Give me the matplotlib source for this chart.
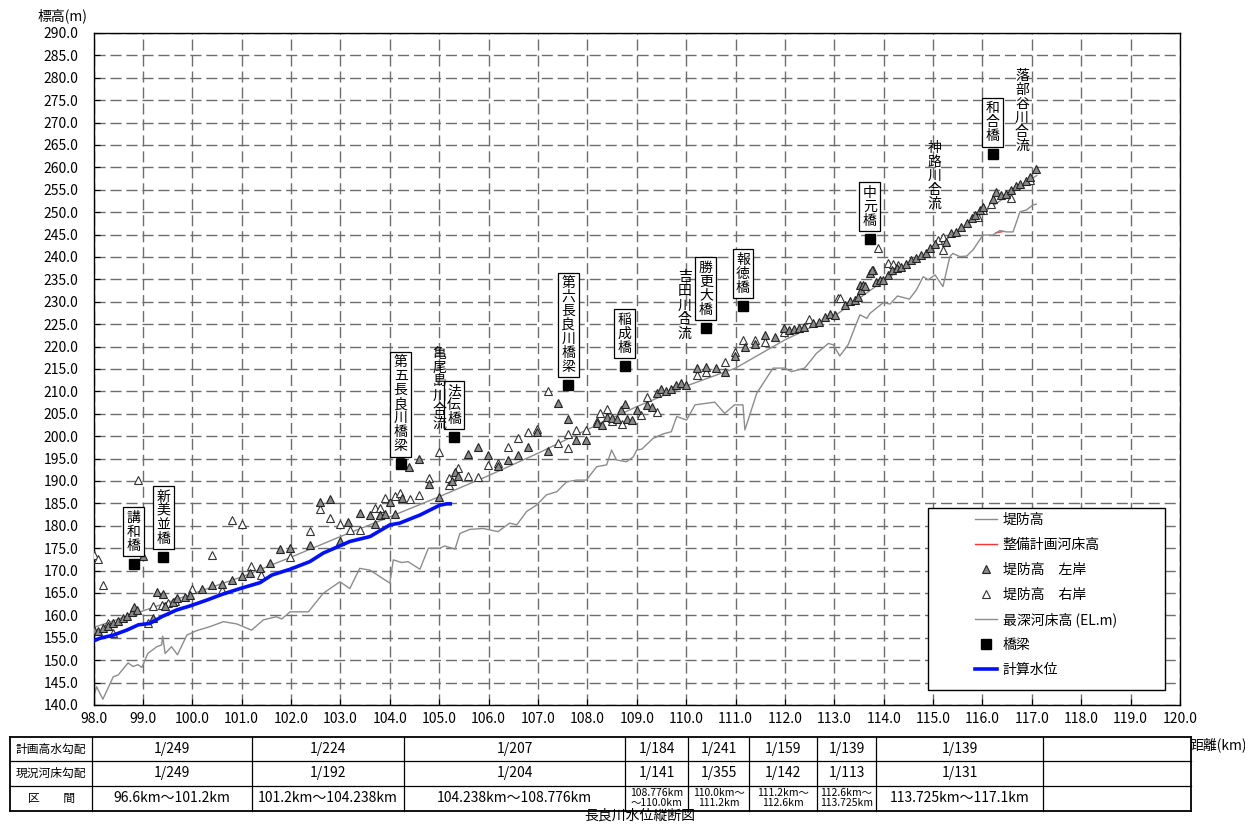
import numpy as np
import matplotlib
matplotlib.use("Agg")
import matplotlib.pyplot as plt
from matplotlib.patches import Rectangle
from matplotlib.lines import Line2D
from matplotlib.ticker import FormatStrFormatter

plt.rcParams['font.family'] = ['Noto Sans CJK JP', 'DejaVu Sans']

# 堤防高 (design levee line)
levee_km = [98.0, 99.0, 100.0, 101.0, 102.0, 103.0, 104.0, 105.0, 106.0, 107.0,
            108.0, 109.0, 110.0, 111.0, 112.0, 113.0, 114.0, 115.0, 116.0, 117.1]
levee_el = [157.3, 161.0, 164.8, 168.6, 173.0, 177.6, 182.0, 186.5, 191.2, 196.2,
            201.5, 206.6, 211.2, 215.2, 221.5, 226.8, 234.7, 241.8, 249.8, 258.2]

# 整備計画河床高 (only a short piece visible)
plan_bed_km = [116.27, 116.42]
plan_bed_el = [245.4, 245.7]

# 最深河床高
bed_km = [98.0, 98.06, 98.19, 98.4, 98.5, 98.7, 98.8, 98.9, 98.98, 99.1, 99.28, 99.38, 99.4,
          99.45, 99.58, 99.7, 99.89, 100.09, 100.36, 100.63, 100.9, 101.2, 101.44, 101.7,
          101.81, 101.98, 102.35, 102.65, 102.79, 102.99, 103.19, 103.39, 103.6, 104.0,
          104.07, 104.24, 104.37, 104.61, 104.78, 105.01, 105.11, 105.32, 105.42, 105.62,
          105.89, 106.19, 106.43, 106.57, 106.77, 106.97, 107.17, 107.38, 107.58, 107.78,
          107.98, 108.19, 108.39, 108.49, 108.59, 108.79, 108.93, 109.0, 109.1, 109.33,
          109.53, 109.7, 109.81, 110.01, 110.18, 110.58, 110.78, 110.98, 111.15, 111.19,
          111.43, 111.76, 112.0, 112.13, 112.4, 112.64, 112.88, 112.98, 113.11, 113.28,
          113.42, 113.52, 113.66, 113.72, 113.99, 114.13, 114.28, 114.52, 114.66, 114.8,
          114.9, 115.04, 115.2, 115.34, 115.4, 115.54, 115.68, 115.81, 116.01, 116.21,
          116.35, 116.49, 116.62, 116.76, 116.89, 117.02, 117.09]
bed_el = [141.5, 144.1, 141.3, 146.3, 146.7, 149.4, 148.6, 149.0, 148.4, 151.5, 153.0, 153.4, 155.4,
          151.5, 153.0, 151.2, 155.6, 156.6, 157.5, 158.6, 158.1, 156.7, 159.0, 159.7,
          159.2, 160.8, 160.8, 164.9, 166.0, 167.5, 166.0, 170.5, 170.1, 167.2,
          172.4, 171.8, 172.0, 170.3, 175.0, 175.0, 175.5, 174.8, 178.3, 179.2,
          179.4, 178.7, 180.6, 180.2, 183.2, 184.6, 186.9, 187.6, 189.8, 190.2,
          190.2, 193.2, 193.6, 196.9, 194.7, 194.3, 195.4, 196.9, 197.1, 199.5,
          200.5, 201.0, 204.4, 203.6, 207.0, 207.6, 205.1, 207.0, 207.0, 201.4,
          209.6, 215.2, 215.2, 214.4, 215.2, 218.5, 220.7, 220.4, 217.9, 220.4,
          224.4, 227.1, 226.3, 227.4, 229.8, 229.5, 231.3, 230.6, 232.6, 235.6,
          234.9, 236.0, 233.4, 240.1, 240.8, 240.1, 240.2, 241.6, 244.9, 244.9,
          245.9, 245.6, 245.6, 250.1, 250.5, 251.6, 251.8]

# 計算水位
wl_km = [98.0, 98.13, 98.4, 98.67, 98.91, 99.14, 99.38, 99.68, 99.95, 100.29, 100.63, 100.97,
         101.37, 101.61, 101.98, 102.38, 102.65, 102.96, 103.19, 103.6, 104.0, 104.2, 104.61,
         104.81, 105.01, 105.15, 105.26]
wl_el = [154.3, 154.9, 155.6, 156.7, 157.9, 158.2, 159.7, 161.2, 162.1, 163.4, 164.8, 166.0,
         167.3, 169.0, 170.3, 172.0, 173.9, 175.4, 176.5, 177.6, 180.2, 180.6, 182.4,
         183.5, 184.6, 184.9, 184.9]

# 堤防高 左岸
left_km = [98.0, 98.1, 98.2, 98.3, 98.4, 98.5, 98.6, 98.67, 98.77, 98.81, 98.88, 99.0, 99.21,
           99.28, 99.41, 99.45, 99.6, 99.7, 99.85, 99.95, 100.19, 100.39, 100.6, 100.8, 101.0,
           101.17, 101.37, 101.57, 101.78, 101.98, 102.38, 102.58, 102.79, 102.99, 103.15,
           103.39, 103.6, 103.7, 103.8, 103.9, 104.0, 104.1, 104.2, 104.24, 104.39, 104.6,
           104.79, 105.0, 105.25, 105.32, 105.38, 105.58, 105.79, 105.99, 106.19, 106.4,
           106.6, 106.8, 106.98, 107.2, 107.4, 107.6, 107.78, 107.98, 108.19, 108.3, 108.4,
           108.49, 108.6, 108.69, 108.76, 108.8, 108.9, 109.0, 109.2, 109.3, 109.4, 109.5,
           109.6, 109.7, 109.8, 109.9, 110.0, 110.21, 110.41, 110.61, 110.78, 110.98, 111.19,
           111.39, 111.59, 111.79, 111.99, 112.09, 112.19, 112.29, 112.39, 112.57, 112.69,
           112.81, 112.91, 113.01, 113.21, 113.31, 113.41, 113.48, 113.52, 113.55, 113.58,
           113.62, 113.72, 113.77, 113.85, 113.92, 113.99, 114.09, 114.16, 114.26, 114.36,
           114.46, 114.56, 114.66, 114.76, 114.86, 114.93, 115.03, 115.27, 115.37, 115.47,
           115.57, 115.68, 115.78, 115.84, 115.95, 116.01, 116.21, 116.27, 116.37, 116.47,
           116.57, 116.67, 116.77, 116.89, 116.96, 117.09]
left_el = [156.7, 156.5, 157.1, 157.6, 158.2, 158.8, 159.4, 159.8, 160.8, 161.9, 161.2, 173.3, 159.4,
           165.3, 164.8, 162.0, 163.0, 163.8, 164.0, 164.6, 166.0, 166.8, 167.1, 167.9, 168.8,
           169.4, 170.6, 171.8, 174.8, 175.0, 175.7, 185.4, 186.0, 176.6, 180.9,
           182.8, 182.4, 180.4, 182.5, 182.6, 185.4, 182.6, 196.0, 186.1, 193.2, 195.0,
           189.3, 186.5, 190.0, 191.9, 191.1, 196.0, 197.5, 195.7, 193.4, 194.7,
           195.8, 197.5, 200.9, 196.6, 207.5, 203.8, 199.2, 199.2, 202.9, 202.5, 204.2,
           204.0, 203.8, 205.8, 207.2, 203.8, 203.6, 205.8, 207.0, 206.5, 209.6, 210.5,
           210.2, 210.6, 211.4, 211.8, 211.4, 215.2, 215.5, 215.2, 214.4, 217.8, 220.0,
           220.6, 222.6, 222.1, 224.1, 223.8, 224.0, 224.1, 224.4, 225.2, 225.5,
           226.7, 227.3, 227.1, 229.3, 230.2, 230.4, 231.1, 233.8, 232.6, 233.8,
           233.5, 236.4, 237.2, 234.5, 234.8, 234.9, 236.0, 237.1, 237.5, 237.8,
           238.5, 239.3, 239.8, 240.4, 241.0, 241.9, 243.0, 243.4, 245.4, 245.6,
           246.8, 247.5, 248.6, 249.4, 250.5, 251.2, 252.9, 254.4, 253.8, 254.0,
           255.0, 255.8, 256.2, 257.0, 257.9, 259.6]

# 堤防高 右岸
right_km = [98.0, 98.1, 98.2, 98.3, 98.4, 98.91, 99.11, 99.2, 99.38, 99.5, 99.65, 99.99, 100.39,
            100.6, 100.8, 101.0, 101.19, 101.4, 101.98, 102.38, 102.58, 102.79, 102.99,
            103.19, 103.39, 103.7, 103.8, 103.8, 103.9, 104.1, 104.2, 104.4, 104.6, 104.79,
            105.0, 105.2, 105.2, 105.38, 105.58, 105.79, 105.99, 106.19, 106.4, 106.6, 106.8,
            106.98, 107.2, 107.4, 107.6, 107.6, 107.78, 107.98, 108.19, 108.25, 108.39, 108.5,
            108.7, 109.09, 109.2, 109.4, 110.21, 110.41, 110.78, 110.98, 111.15, 111.39,
            111.59, 111.99, 112.49, 113.07, 113.11, 113.79, 113.89, 114.09, 114.19, 114.3,
            115.1, 115.2, 115.2, 115.9, 116.01, 116.18, 116.57, 116.96]
right_el = [173.5, 172.5, 166.8, 158.3, 156.1, 190.2, 158.2, 162.0, 162.3, 162.8, 163.2, 166.0, 173.5,
            165.7, 181.4, 180.4, 171.0, 169.0, 173.1, 178.8, 183.7, 181.7, 180.4,
            179.0, 179.0, 183.9, 183.9, 182.4, 186.1, 186.6, 187.4, 185.9, 186.9, 190.6,
            196.4, 190.6, 189.0, 193.0, 191.1, 190.8, 193.6, 194.0, 197.7, 199.5, 201.0,
            201.5, 210.2, 198.4, 200.6, 197.3, 201.4, 201.4, 203.5, 205.1, 206.0, 203.5,
            202.8, 204.7, 208.8, 205.5, 213.7, 214.3, 216.6, 218.9, 221.5, 221.5,
            221.0, 223.3, 226.1, 230.8, 230.8, 237.1, 241.9, 238.6, 238.5, 238.3,
            243.8, 244.5, 241.6, 249.0, 250.6, 251.8, 253.1, 257.2]

# 橋梁
bridge_names = ['講和橋', '新美並橋', '第五長良川橋梁', '法伝橋', '第六長良川橋梁',
                '稲成橋', '勝更大橋', '報徳橋', '中元橋', '和合橋']
bridge_km = [98.81, 99.41, 104.22, 105.3, 107.61, 108.76, 110.4, 111.15, 113.72, 116.21]
bridge_el = [171.5, 173.1, 193.7, 199.8, 211.4, 215.7, 224.2, 229.1, 244.0, 262.9]

# 合流点
conf_names = ['亀尾島川合流', '吉田川合流', '神路川合流', '落部谷川合流']
conf_km = [105.0, 109.97, 115.03, 116.8]
conf_top = [220.0, 237.0, 266.0, 282.0]

# table
row_titles = ['計画高水勾配', '現況河床勾配', '区\u3000\u3000間']
plan_grad = ['1/249', '1/224', '1/207', '1/184', '1/241', '1/159', '1/139', '1/139', '']
bed_grad = ['1/249', '1/192', '1/204', '1/141', '1/355', '1/142', '1/113', '1/131', '']
sections = ['96.6km～101.2km', '101.2km～104.238km', '104.238km～108.776km',
            '108.776km\n～110.0km', '110.0km～\n111.2km', '111.2km～\n112.6km',
            '112.6km～\n113.725km', '113.725km～117.1km', '']

W, H = 1245, 825
fig = plt.figure(figsize=(W / 100, H / 100), dpi=100)
ax = fig.add_axes([93.5 / W, 1 - 705 / H, (1180 - 93.5) / W, 672 / H])

ax.set_xlim(98, 120)
ax.set_ylim(140, 290)
ax.set_xticks(np.arange(98, 120.01, 1))
ax.set_yticks(np.arange(140, 290.01, 5))
ax.xaxis.set_major_formatter(FormatStrFormatter('%.1f'))
ax.yaxis.set_major_formatter(FormatStrFormatter('%.1f'))
ax.tick_params(direction='in', length=4, width=0.8, labelsize=10, colors='black')
ax.tick_params(axis='y', pad=11)
ax.tick_params(axis='x', pad=5)
ax.grid(True, color='#6e6e6e', linestyle=(0, (8, 3.5)), linewidth=1.0)
ax.set_axisbelow(True)
for s in ax.spines.values():
    s.set_color('black')
    s.set_linewidth(1.0)

ax.plot(levee_km, levee_el, color='#8c8c8c', lw=1.0, zorder=2)
ax.plot(plan_bed_km, plan_bed_el, color='#ff3030', lw=1.0, zorder=2)
ax.plot(bed_km, bed_el, color='#8c8c8c', lw=1.0, zorder=2)
ax.plot(right_km, right_el, ls='none', marker='^', ms=6, mfc='white', mec='#333333', mew=0.8, zorder=3)
ax.plot(left_km, left_el, ls='none', marker='^', ms=6, mfc='#8a8a8a', mec='#222222', mew=0.8, zorder=3)
ax.plot(wl_km, wl_el, color='#0010ff', lw=2.6, zorder=4, solid_capstyle='butt')
ax.plot(bridge_km, bridge_el, ls='none', marker='s', ms=6.5, color='black', zorder=5)

for name, km, el in zip(bridge_names, bridge_km, bridge_el):
    ax.annotate('\n'.join(name), xy=(km, el), xytext=(0, 8), textcoords='offset points',
                ha='center', va='bottom', fontsize=10, linespacing=1.0, zorder=6,
                bbox=dict(boxstyle='square,pad=0.25', fc='white', ec='black', lw=0.9))

for name, km, top in zip(conf_names, conf_km, conf_top):
    ax.text(km, top, '\n'.join(name), ha='center', va='top', fontsize=10,
            linespacing=1.0, zorder=6)

# legend with a fixed white box
ax.add_patch(Rectangle(((928 - 93.5) / 1086.5, (705 - 690) / 672), (1165 - 928) / 1086.5,
                       (690 - 508) / 672, transform=ax.transAxes, fc='white', ec='black',
                       lw=1.0, zorder=7, clip_on=False))
handles = [
    Line2D([], [], color='#8c8c8c', lw=1.0),
    Line2D([], [], color='#ff3030', lw=1.0),
    Line2D([], [], ls='none', marker='^', ms=6, mfc='#8a8a8a', mec='#222222', mew=0.8),
    Line2D([], [], ls='none', marker='^', ms=6, mfc='white', mec='#333333', mew=0.8),
    Line2D([], [], color='#8c8c8c', lw=1.0),
    Line2D([], [], ls='none', marker='s', ms=6.5, color='black'),
    Line2D([], [], color='#0010ff', lw=2.6),
]
labels = ['堤防高', '整備計画河床高', '堤防高\u3000左岸', '堤防高\u3000右岸',
          '最深河床高 (EL.m)', '橋梁', '計算水位']
leg = ax.legend(handles, labels, loc='upper left',
                bbox_to_anchor=((975 - 93.5) / 1086.5, (705 - 513) / 672),
                frameon=False, fontsize=10, borderpad=0, labelspacing=0.78,
                handlelength=1.6, handletextpad=0.4, borderaxespad=0)
leg.set_zorder(8)

# overlay axes in pixel coordinates for labels and table
tax = fig.add_axes([0, 0, 1, 1])
tax.set_xlim(0, W)
tax.set_ylim(H, 0)
tax.axis('off')

tax.text(62, 16, '標高(m)', ha='center', va='center', fontsize=10)
tax.text(1218, 745, '距離(km)', ha='center', va='center', fontsize=10)
tax.text(640, 816, '長良川水位縦断図', ha='center', va='center', fontsize=10)

col_x = [10, 92, 252, 404, 625, 688, 749, 817, 876, 1043, 1191]
row_y = [737, 761, 786, 811]
for x in col_x:
    lw = 1.3 if x in (col_x[0], col_x[-1]) else 0.9
    tax.plot([x, x], [row_y[0], row_y[-1]], color='black', lw=lw)
for y in row_y:
    lw = 1.3 if y in (row_y[0], row_y[-1]) else 0.9
    tax.plot([col_x[0], col_x[-1]], [y, y], color='black', lw=lw)

rows = [plan_grad, bed_grad, sections]
for r, (title, vals) in enumerate(zip(row_titles, rows)):
    yc = (row_y[r] + row_y[r + 1]) / 2
    tax.text((col_x[0] + col_x[1]) / 2, yc, title, ha='center', va='center', fontsize=8.5)
    for c, v in enumerate(vals):
        xc = (col_x[c + 1] + col_x[c + 2]) / 2
        fs = 7.5 if '\n' in v else 10
        tax.text(xc, yc, v, ha='center', va='center', fontsize=fs, linespacing=1.0)

fig.savefig('out.png', dpi=100)
